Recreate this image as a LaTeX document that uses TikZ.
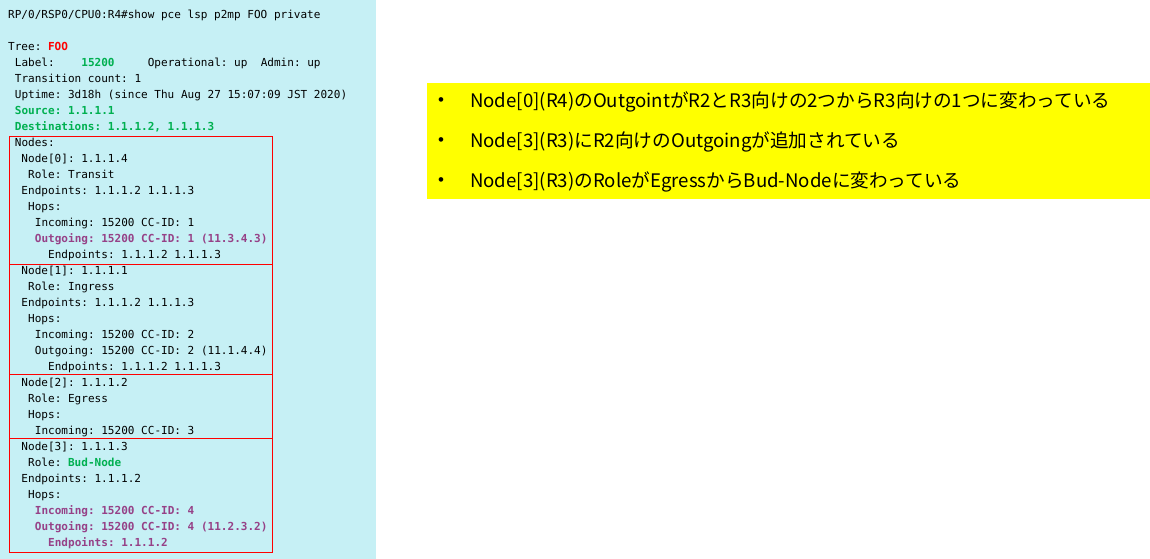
\documentclass[tikz,border=0pt]{standalone}
\usepackage{fontspec}
\setmonofont{DejaVu Sans Mono}
\newfontfamily\jpfont{Noto Sans CJK JP}
\newfontfamily\bulfont{Liberation Sans}
\definecolor{termcyan}{RGB}{198,240,245}
\definecolor{foored}{RGB}{255,0,0}
\definecolor{boxred}{RGB}{255,0,0}
\definecolor{labelgreen}{RGB}{0,176,80}
\definecolor{hoppurple}{RGB}{150,65,135}
\definecolor{noteyellow}{RGB}{255,255,0}
\tikzset{
  cli/.style={anchor=base west,inner sep=0pt,font=\ttfamily\fontsize{11.08}{16}\selectfont},
  clihot/.style={cli,font=\ttfamily\bfseries\fontsize{11.08}{16}\selectfont},
  nodebox/.style={draw=boxred,line width=1bp},
  note/.style={anchor=west,inner sep=0pt,font=\jpfont\fontsize{18.7}{22}\selectfont},
  dot/.style={inner sep=0pt,font=\bulfont\fontsize{17}{18}\selectfont}
}

\begin{document}
\begin{tikzpicture}[x=1bp,y=-1bp]
\fill[white] (0,0) rectangle (1150,559);
\useasboundingbox (0,0) rectangle (1150,559);
\fill[termcyan] (0,0) rectangle (376,559); % terminal output
\node[cli] (prompt) at (8,18.5) {RP/0/RSP0/CPU0:R4\#show pce lsp p2mp FOO private};
\node[cli] (tree) at (8,50.5) {Tree: {\bfseries\color{foored}FOO}};
\node[cli] (label) at (14.7,66.5) {Label:~~~~{\bfseries\color{labelgreen}15200}~~~~~Operational:~up~~Admin:~up};
\node[cli] (trans) at (14.7,82.5) {Transition count: 1};
\node[cli] (uptime) at (14.7,98.5) {Uptime: 3d18h (since Thu Aug 27 15:07:09 JST 2020)};
\node[clihot,text=labelgreen] (source) at (14.7,114.5) {Source: 1.1.1.1};
\node[clihot,text=labelgreen] (dests) at (14.7,130.5) {Destinations: 1.1.1.2, 1.1.1.3};
\node[cli] (nodes) at (14.7,146.5) {Nodes:};
% Node[0]
\node[cli] (n0) at (21.3,162.5) {Node[0]: 1.1.1.4};
\node[cli] (n0role) at (28,178.5) {Role: Transit};
\node[cli] (n0ends) at (21.3,194.5) {Endpoints: 1.1.1.2 1.1.1.3};
\node[cli] (n0hops) at (28,210.5) {Hops:};
\node[cli] (n0in) at (34.7,226.5) {Incoming: 15200 CC-ID: 1};
\node[clihot,text=hoppurple] (n0out) at (34.7,242.5) {Outgoing: 15200 CC-ID: 1 (11.3.4.3)};
\node[cli] (n0oute) at (48,258.5) {Endpoints: 1.1.1.2 1.1.1.3};
% Node[1]
\node[cli] (n1) at (21.3,274.5) {Node[1]: 1.1.1.1};
\node[cli] (n1role) at (28,290.5) {Role: Ingress};
\node[cli] (n1ends) at (21.3,306.5) {Endpoints: 1.1.1.2 1.1.1.3};
\node[cli] (n1hops) at (28,322.5) {Hops:};
\node[cli] (n1in) at (34.7,338.5) {Incoming: 15200 CC-ID: 2};
\node[cli] (n1out) at (34.7,354.5) {Outgoing: 15200 CC-ID: 2 (11.1.4.4)};
\node[cli] (n1oute) at (48,370.5) {Endpoints: 1.1.1.2 1.1.1.3};
% Node[2]
\node[cli] (n2) at (21.3,386.5) {Node[2]: 1.1.1.2};
\node[cli] (n2role) at (28,402.5) {Role: Egress};
\node[cli] (n2hops) at (28,418.5) {Hops:};
\node[cli] (n2in) at (34.7,434.5) {Incoming: 15200 CC-ID: 3};
% Node[3]
\node[cli] (n3) at (21.3,450.5) {Node[3]: 1.1.1.3};
\node[cli] (n3role) at (28,466.5) {Role: {\bfseries\color{labelgreen}Bud-Node}};
\node[cli] (n3ends) at (21.3,482.5) {Endpoints: 1.1.1.2};
\node[cli] (n3hops) at (28,498.5) {Hops:};
\node[clihot,text=hoppurple] (n3in) at (34.7,514.5) {Incoming: 15200 CC-ID: 4};
\node[clihot,text=hoppurple] (n3out) at (34.7,530.5) {Outgoing: 15200 CC-ID: 4 (11.2.3.2)};
\node[clihot,text=hoppurple] (n3oute) at (48,546.5) {Endpoints: 1.1.1.2};
\draw[nodebox] (9.5,136.5) rectangle (272.5,552.5);
\draw[nodebox] (9.5,264.5) -- (272.5,264.5);
\draw[nodebox] (9.5,374.5) -- (272.5,374.5);
\draw[nodebox] (9.5,438.5) -- (272.5,438.5);
% notes
\fill[noteyellow] (427,83) rectangle (1150,199);
\node[dot] (b1) at (441,101.7) {•};
\node[dot] (b2) at (441,141.7) {•};
\node[dot] (b3) at (441,181.7) {•};
\node[note] (t1) at (470,101.7) {Node[0](R4)のOutgointがR2とR3向けの2つからR3向けの1つに変わっている};
\node[note] (t2) at (470,141.7) {Node[3](R3)にR2向けのOutgoingが追加されている};
\node[note] (t3) at (470,181.7) {Node[3](R3)のRoleがEgressからBud-Nodeに変わっている};
\end{tikzpicture}
\end{document}
